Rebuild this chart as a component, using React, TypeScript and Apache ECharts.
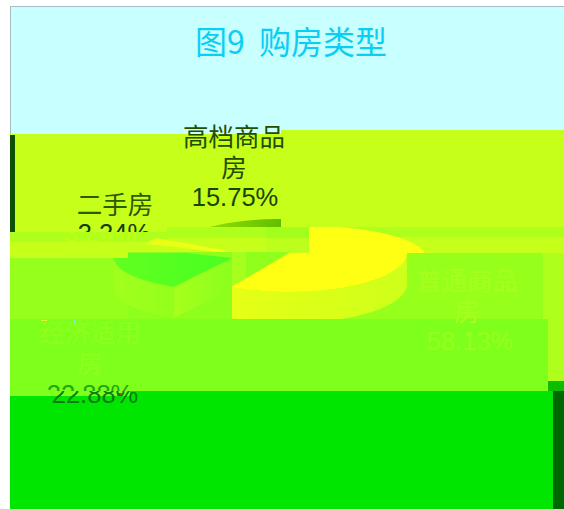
import React, { useEffect, useRef } from "react";
import * as echarts from "echarts";

const titleText = "图9  购房类型";
const categories = ["普通商品房", "经济适用房", "二手房", "高档商品房"];
const shares = [58.13, 22.88, 3.24, 15.75];

const SANS = '"Liberation Sans","Noto Sans CJK SC",sans-serif';
const total = shares.reduce((a, b) => a + b, 0);
const RX = 118;
const DEPTH = 31;

type Pt = [number, number];
const arc = (cx: number, cy: number, ry: number, a0: number, a1: number, rx = RX): Pt[] => {
  const out: Pt[] = [];
  const n = Math.max(2, Math.ceil(Math.abs(a1 - a0) / 2));
  for (let i = 0; i <= n; i++) {
    const t = ((a0 + ((a1 - a0) * i) / n) * Math.PI) / 180;
    out.push([cx + rx * Math.sin(t), cy - ry * Math.cos(t)]);
  }
  return out;
};
const clip = (x0: number, y0: number, x1: number, y1: number) => ({
  type: "rect",
  shape: { x: x0, y: y0, width: x1 - x0, height: y1 - y0 },
});
const hGrad = (a: string, b: string) => ({
  type: "linear", x: 0, y: 0, x2: 1, y2: 0,
  colorStops: [{ offset: 0, color: a }, { offset: 1, color: b }],
});
const poly = (points: Pt[], fill: any, clipPath: any) => ({
  type: "polygon", shape: { points }, style: { fill, stroke: "none" }, clipPath, silent: true,
});
const sector = (cx: number, cy: number, ry: number, a0: number, a1: number, fill: any, c: any, rx = RX) =>
  poly([[cx, cy], ...arc(cx, cy, ry, a0, a1, rx)], fill, c);
const band = (a0: number, a1: number, cx: number, cy: number, ry: number, fill: any, c: any, rx = RX) => {
  const top = arc(cx, cy, ry, a0, a1, rx);
  const bottom = arc(cx, cy + DEPTH, ry, a0, a1, rx).reverse();
  return poly([...top, ...bottom], fill, c);
};
const txt = (text: string, x: number, y: number, fill: string, c?: any, fontSize = 25.5) => ({
  type: "text",
  silent: true,
  clipPath: c,
  style: { text, x, y, fill, fontSize, lineHeight: 31, fontFamily: SANS, align: "center", verticalAlign: "middle" },
});
const wrap = (name: string) => (name.length > 4 ? name.slice(0, 4) + "\n" + name.slice(4) : name);

function renderItem(params: any, api: any) {
  const i = params.dataIndex;
  let before = 0;
  for (let k = 0; k < i; k++) before += shares[k];
  const a0 = (before / total) * 360;
  const a1 = a0 + (Number(api.value(0)) / total) * 360;
  const name = wrap(categories[i]);
  const pct = Number(api.value(0)).toFixed(2) + "%";
  let children: any[] = [];
  if (i === 0) {
    const low = clip(232, 253, 409, 319);
    children = [
      band(90, a1, 289, 253, 39, hGrad("#E6FF16", "#CEFF1A"), low),
      sector(289, 253, 39, a0, a1, "#FFFF14", low),
      sector(309, 259, 33, a0, a1, "#FFFF14", clip(309, 227, 564, 253)),
      txt(name, 467, 296, "#A8FF1C"),
      txt(pct, 470, 341, "#98FF1C"),
    ];
  } else if (i === 1) {
    const cx = 232, cy = 258, ry = 33;
    const end = arc(cx, cy, ry, a0, a0)[0];
    const face: Pt[] = [[cx, cy], end, [end[0], end[1] + DEPTH], [cx, cy + DEPTH]];
    children = [
      band(a0, 270, cx, cy, ry, hGrad("#A2FF1C", "#94FF1C"), clip(112, 258, 232, 319)),
      poly(face, hGrad("#A8FF1C", "#8AFF1E"), clip(112, 253, 232, 319)),
      sector(cx, cy, ry, a0, a1, hGrad("#62FF20", "#48FF20"), clip(128, 253, 232, 319)),
      sector(cx, cy, ry, a0, a1, hGrad("#62FF20", "#48FF20"), clip(112, 258, 128, 319)),
      txt(name, 90, 348, "#90FF1C"),
      txt(pct, 90, 394, "#22A812", clip(0, 380, 564, 391)),
      txt(pct, 95, 394, "#0A7A14", clip(0, 391, 564, 410)),
    ];
  } else if (i === 2) {
    children = [
      sector(255, 256, 33, a0, a1, hGrad("#E4FF14", "#FFFF14"), clip(140, 237, 270, 252)),
      txt(name, 115, 205, "#2C5A00"),
      txt(pct, 114, 233, "#123C06", clip(0, 215, 564, 232)),
      txt(pct, 100, 233, "#BEFF14", clip(0, 232, 170, 242)),
    ];
  } else {
    children = [
      sector(281, 258, 39, a0, a1, hGrad("#A6E800", "#62BE00"), clip(190, 210, 281, 227)),
      txt(name, 234, 152, "#234E00"),
      txt(pct, 235, 197, "#184400"),
    ];
  }
  return { type: "group", children };
}

const rect = (x0: number, y0: number, x1: number, y1: number, fill: string) => ({
  type: "rect", silent: true, z: 0,
  shape: { x: x0, y: y0, width: x1 - x0, height: y1 - y0 },
  style: { fill },
});

export default function App() {
  const ref = useRef<HTMLDivElement>(null);
  useEffect(() => {
    const chart = echarts.init(ref.current!, null, { renderer: "svg" });
    chart.setOption({
      animation: false,
      backgroundColor: "#FFFFFF",
      title: {
        text: titleText, left: 286, top: 19, textAlign: "center",
        textStyle: { color: "#0CCEF4", fontSize: 32, fontWeight: "normal", fontFamily: '"Noto Sans CJK SC",sans-serif' },
      },
      graphic: {
        elements: [
          rect(10, 6, 564, 136, "#C8FFFF"),
          rect(10, 6, 564, 7, "#A8BCC0"),
          rect(10, 6, 11, 135, "#A8BCC0"),
          rect(10, 134, 564, 232, "#C6FF1A"),
          rect(281, 130, 564, 134, "#C6FF1A"),
          rect(10, 135, 15, 232, "#0F4F06"),
          rect(10, 232, 564, 258, "#C6FF1A"),
          rect(10, 232, 167, 242, "#AEFF1C"),
          rect(167, 227, 309, 238, "#AEFF1C"),
          rect(266, 227, 309, 238, "#A2FF1C"),
          rect(266, 238, 309, 252, "#BCFF1C"),
          rect(309, 227, 564, 237, "#AEFF1C"),
          rect(309, 237, 564, 253, "#C6FF1A"),
          rect(10, 258, 128, 319, "#96FF1C"),
          rect(128, 252, 232, 319, "#8EFF1C"),
          rect(232, 252, 246, 319, "#A6FF1C"),
          rect(246, 252, 289, 319, "#90FF1C"),
          rect(289, 253, 409, 319, "#96FF1C"),
          rect(409, 253, 543, 319, "#96FF1C"),
          rect(543, 253, 564, 381, "#AEFF1C"),
          rect(10, 319, 548, 396, "#7FFF1C"),
          rect(543, 319, 548, 381, "#7FFF1C"),
          rect(548, 381, 564, 391, "#0DBD00"),
          rect(10, 396, 564, 509, "#00E600"),
          rect(130, 391, 564, 396, "#00E600"),
          rect(553, 391, 564, 509, "#006800"),
          rect(41, 320, 47, 321, "#E8FF30"),
          rect(73, 320, 76, 323, "#70F0D0"),
          rect(117, 393, 122, 396, "#D0401C"),
        ],
      },
      series: [
        {
          type: "custom",
          coordinateSystem: "none",
          silent: true,
          clip: false,
          data: shares.map((v) => [v]),
          encode: { value: 0 },
          renderItem,
        },
      ],
    });
    return () => chart.dispose();
  }, []);
  return <div ref={ref} style={{ position: "absolute", left: 0, top: 0, width: 564, height: 509 }} />;
}
